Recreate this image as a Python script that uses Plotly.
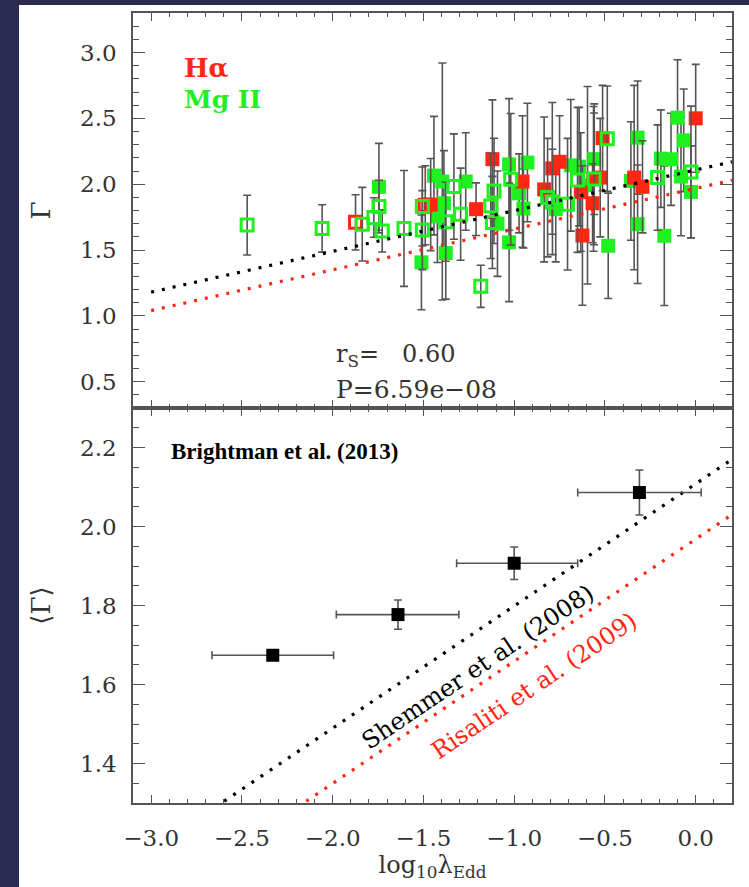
import plotly.graph_objects as go

# ---------------- data ----------------
# Top panel: photon index Gamma vs log10 Eddington ratio
ha_fill_x = [-1.46, -1.21, -1.12, -0.954, -0.835, -0.79, -0.75, -0.624, -0.633, -0.568,
             -0.563, -0.526, -0.513, -0.339, -0.293, 0.0]
ha_fill_y = [1.845, 1.81, 2.19, 2.02, 1.96, 2.12, 2.17, 1.61, 1.94, 1.855,
             2.04, 2.05, 2.35, 2.05, 1.98, 2.50]
ha_fill_e = [0.35, 0.20, 0.45, 0.50, 0.55, 0.50, 0.35, 0.53, 0.45, 0.30,
             0.55, 0.45, 0.40, 0.70, 0.35, 0.41]

ha_open_x = [-1.874, -1.49]
ha_open_y = [1.71, 1.84]
ha_open_e = [0.21, 0.30]

mg_fill_x = [-1.745, -1.511, -1.442, -1.396, -1.387, -1.423, -1.377, -1.267, -1.092, -1.028,
             -1.028, -0.973, -0.927, -0.949, -0.771, -0.688, -0.642, -0.596, -0.559, -0.482,
             -0.357, -0.32, -0.32, -0.192, -0.136, -0.173, -0.10, -0.066, -0.026, -0.081]
mg_fill_y = [1.98, 1.406, 2.065, 2.02, 1.855, 1.755, 1.477, 2.02, 1.70, 2.15,
             1.558, 1.93, 2.164, 1.815, 1.81, 2.143, 2.133, 1.992, 2.19, 1.532,
             2.024, 2.353, 1.696, 2.194, 2.189, 1.608, 2.505, 2.333, 1.941, 2.058]
mg_fill_e = [0.33, 0.36, 0.45, 0.90, 0.40, 0.35, 0.35, 0.37, 0.40, 0.50,
             0.45, 0.30, 0.45, 0.30, 0.40, 0.50, 0.45, 0.75, 0.42, 0.40,
             0.45, 0.43, 0.45, 0.37, 0.35, 0.53, 0.44, 0.39, 0.35, 0.45]

mg_open_x = [-2.471, -2.058, -1.837, -1.745, -1.773, -1.727, -1.607, -1.506, -1.506, -1.377,
             -1.332, -1.295, -1.184, -1.129, -1.111, -1.12, -1.019, -0.816, -0.789, -0.706,
             -0.651, -0.56, -0.487, -0.21, -0.026]
mg_open_y = [1.689, 1.664, 1.696, 1.83, 1.747, 1.645, 1.664, 1.651, 1.83, 1.714,
             1.982, 1.772, 1.224, 1.835, 1.949, 1.709, 2.037, 1.898, 1.865, 1.848,
             2.032, 2.04, 2.345, 2.05, 2.093]
mg_open_e = [0.227, 0.18, 0.28, 0.20, 0.15, 0.16, 0.44, 0.30, 0.30, 0.30,
             0.40, 0.35, 0.16, 0.40, 0.40, 0.35, 0.50, 0.45, 0.40, 0.50,
             0.55, 0.50, 0.40, 0.40, 0.50]

# Bottom panel: binned mean Gamma (Brightman et al. 2013)
bin_x = [-2.33, -1.64, -1.00, -0.31]
bin_y = [1.674, 1.777, 1.907, 2.086]
bin_xlo = [0.335, 0.34, 0.317, 0.34]
bin_xhi = [0.335, 0.335, 0.35, 0.34]
bin_ye = [0.0, 0.037, 0.041, 0.057]

# Literature relations (end points of each straight line)
rel_x = [-3.0, 0.2]
shemmer_y = [1.18, 2.17]
risaliti_y = [1.04, 2.03]

# ---------------- style ----------------
RED = "#ff2614"
GREEN = "#1ff01f"
ERR = "#555555"
FRAME = "#555555"
LABEL = "#333333"
SERIF = "DejaVu Serif"
TIMES = "Liberation Serif"

fig = go.Figure()


def errbar(e, **kw):
    d = dict(type="data", array=e, visible=True, color=ERR, thickness=1.6, width=4)
    d.update(kw)
    return d


# top panel points
fig.add_trace(go.Scatter(x=mg_fill_x, y=mg_fill_y, mode="markers", xaxis="x2", yaxis="y2",
                         marker=dict(symbol="square", size=14, color=GREEN),
                         error_y=errbar(mg_fill_e), showlegend=False))
fig.add_trace(go.Scatter(x=ha_fill_x, y=ha_fill_y, mode="markers", xaxis="x2", yaxis="y2",
                         marker=dict(symbol="square", size=14, color=RED),
                         error_y=errbar(ha_fill_e), showlegend=False))
fig.add_trace(go.Scatter(x=ha_open_x, y=ha_open_y, mode="markers", xaxis="x2", yaxis="y2",
                         marker=dict(symbol="square-open", size=12, color=RED,
                                     line=dict(width=3, color=RED)),
                         error_y=errbar(ha_open_e), showlegend=False))
fig.add_trace(go.Scatter(x=mg_open_x, y=mg_open_y, mode="markers", xaxis="x2", yaxis="y2",
                         marker=dict(symbol="square-open", size=12, color=GREEN,
                                     line=dict(width=3, color=GREEN)),
                         error_y=errbar(mg_open_e), showlegend=False))

# relations in both panels
for xa, ya in (("x2", "y2"), ("x", "y")):
    fig.add_trace(go.Scatter(x=rel_x, y=shemmer_y, mode="lines", xaxis=xa, yaxis=ya,
                             line=dict(color="black", width=3.2, dash="3px,8px"),
                             showlegend=False))
    fig.add_trace(go.Scatter(x=rel_x, y=risaliti_y, mode="lines", xaxis=xa, yaxis=ya,
                             line=dict(color=RED, width=3.2, dash="3px,8px"),
                             showlegend=False))

# bottom panel binned points
fig.add_trace(go.Scatter(x=bin_x, y=bin_y, mode="markers", xaxis="x", yaxis="y",
                         marker=dict(symbol="square", size=13, color="black"),
                         error_x=dict(type="data", symmetric=False, array=bin_xhi,
                                      arrayminus=bin_xlo, color=ERR, thickness=1.6, width=4),
                         error_y=errbar(bin_ye),
                         showlegend=False))

# ---------------- axes ----------------
tickfont = dict(family=SERIF, size=23, color=LABEL)
common = dict(showline=True, linecolor=FRAME, linewidth=1.5, mirror="allticks",
              ticks="inside", tickcolor=FRAME, tickwidth=1.3, showgrid=False,
              zeroline=False, tickfont=tickfont)

fig.update_layout(
    width=749, height=887,
    margin=dict(l=133, r=17, t=13, b=84, autoexpand=False),
    paper_bgcolor="#2b2a4f",
    plot_bgcolor="white",
    xaxis=dict(domain=[0, 1], anchor="y", range=[-3.1, 0.2], dtick=0.5, tick0=0,
               ticklen=8, tickformat=".1f", ticklabelstandoff=14,
               minor=dict(dtick=0.1, ticklen=4, ticks="inside", tickcolor=FRAME),
               title=dict(text="log<sub>10</sub>λ<sub>Edd</sub>",
                          font=dict(family=SERIF, size=24, color=LABEL), standoff=6),
               **common),
    xaxis2=dict(domain=[0, 1], anchor="y2", matches="x", range=[-3.1, 0.2], dtick=0.5,
                tick0=0, ticklen=8, showticklabels=False,
                minor=dict(dtick=0.1, ticklen=4, ticks="inside", tickcolor=FRAME),
                **common),
    yaxis=dict(domain=[0, 0.5], anchor="x", range=[1.3, 2.3], dtick=0.2, tick0=0,
               ticklen=12, tickformat=".1f", ticklabelstandoff=10,
               minor=dict(dtick=0.05, ticklen=6, ticks="inside", tickcolor=FRAME),
               title=dict(text="⟨Γ⟩", font=dict(family=SERIF, size=26, color=LABEL),
                          standoff=22),
               **common),
    yaxis2=dict(domain=[0.5, 1], anchor="x2", range=[0.3, 3.3], dtick=0.5, tick0=0,
                ticklen=12, tickformat=".1f", ticklabelstandoff=10,
                minor=dict(dtick=0.1, ticklen=6, ticks="inside", tickcolor=FRAME),
                title=dict(text="Γ", font=dict(family=SERIF, size=26, color=LABEL),
                           standoff=22),
                **common),
)

# white page area inside the dark border
fig.add_shape(type="rect", xref="paper", yref="paper",
              x0=(19 - 133) / 599, x1=1.2, y0=-0.3, y1=1 + 8 / 790,
              fillcolor="white", line=dict(width=0), layer="below")

# ---------------- text ----------------
ann = [
    dict(text="<b>Hα</b>", x=-2.83, y=2.885, xref="x2", yref="y2",
         font=dict(family=SERIF, size=26, color=RED)),
    dict(text="<b>Mg II</b>", x=-2.83, y=2.64, xref="x2", yref="y2",
         font=dict(family=SERIF, size=25, color=GREEN)),
    dict(text="r<sub>S</sub>=\u00a0\u00a0\u00a00.60", x=-1.99, y=0.70, xref="x2", yref="y2",
         font=dict(family=SERIF, size=24, color=LABEL)),
    dict(text="P=6.59e−08", x=-1.99, y=0.44, xref="x2", yref="y2",
         font=dict(family=SERIF, size=25, color=LABEL)),
    dict(text="<b>Brightman et al. (2013)</b>", x=-2.9, y=2.19, xref="x", yref="y",
         font=dict(family=TIMES, size=23, color="black")),
]
for a in ann:
    fig.add_annotation(showarrow=False, xanchor="left", yanchor="middle", **a)

fig.add_annotation(text="Shemmer et al. (2008)", x=-1.20, y=1.645, xref="x", yref="y",
                   textangle=-34, showarrow=False,
                   font=dict(family=SERIF, size=24, color="black"))
fig.add_annotation(text="Risaliti et al. (2009)", x=-0.89, y=1.595, xref="x", yref="y",
                   textangle=-34, showarrow=False,
                   font=dict(family=SERIF, size=24, color=RED))

fig.write_html("out.html")
